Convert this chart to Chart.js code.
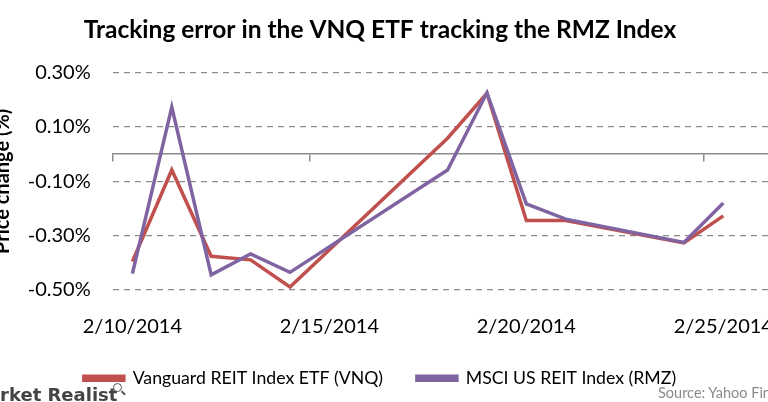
<!DOCTYPE html>
<html><head><meta charset="utf-8">
<script src="https://cdn.jsdelivr.net/npm/chart.js@4/dist/chart.umd.min.js"></script>
<style>
html,body{margin:0;padding:0;background:#fff;overflow:hidden;width:768px;height:402px;position:relative}
#wrap{position:absolute;left:-9px;top:0;width:778px;height:402px;}
#mr{position:absolute;left:-30px;top:386px;font:bold 18px "DejaVu Sans", sans-serif;color:#444;white-space:nowrap;line-height:18px}
#mag{position:absolute;left:113px;top:383px;width:7px;height:7px;border:1.5px solid #555;border-radius:50%}
#mag:after{content:"";position:absolute;left:7px;top:8px;width:5px;height:1.6px;background:#555;transform:rotate(45deg)}
#src{position:absolute;left:658px;top:385px;font:14.5px Lato, sans-serif;color:#8b8b8b;white-space:nowrap;line-height:15px}
</style></head><body>
<div id="wrap"><canvas id="c"></canvas></div>
<div id="mr">Market Realist</div>
<div id="mag"></div>
<div id="src">Source: Yahoo Finance</div>
<script>
const dayOfMonth = [10, 11, 12, 13, 14, 18, 19, 20, 21, 24, 25];
const vnqChange = [-0.395, -0.058, -0.376, -0.389, -0.489, 0.059, 0.224, -0.244, -0.244, -0.327, -0.227];
const rmzChange = [-0.440, 0.173, -0.444, -0.367, -0.435, -0.058, 0.226, -0.183, -0.239, -0.325, -0.180];
const yTickValues = [-0.5, -0.3, -0.1, 0.1, 0.3];
const xTickDays = [10, 15, 20, 25];
const xTickLabels = ['2/10/2014', '2/15/2014', '2/20/2014', '2/25/2014'];

const FONT = 'Lato, "Open Sans", sans-serif';
const GRID = '#8c8c8c';

new Chart(document.getElementById('c'), {
  type: 'line',
  data: {
    datasets: [
      { label: 'Vanguard REIT Index ETF (VNQ)', data: dayOfMonth.map((d, i) => ({ x: d, y: vnqChange[i] })),
        borderColor: '#C0504D', backgroundColor: '#C0504D', borderWidth: 3.5, pointRadius: 0, tension: 0, order: 1 },
      { label: 'MSCI US REIT Index (RMZ)', data: dayOfMonth.map((d, i) => ({ x: d, y: rmzChange[i] })),
        borderColor: '#8064A2', backgroundColor: '#8064A2', borderWidth: 3.5, pointRadius: 0, tension: 0, order: 0 }
    ]
  },
  options: {
    responsive: true, maintainAspectRatio: false, animation: false,
    layout: { padding: { left: 0, right: 0, top: 0, bottom: 4.8 } },
    plugins: {
      title: { display: true, text: 'Tracking error in the VNQ ETF tracking the RMZ Index', color: '#000',
        font: { family: FONT, size: 24.5, weight: 'bold' }, padding: { top: 15.3, bottom: 28 } },
      legend: { position: 'bottom', labels: { boxWidth: 40, boxHeight: 4, padding: 34, color: '#000',
        font: { family: FONT, size: 17.7 }, sort: (a, b) => a.datasetIndex - b.datasetIndex } },
      tooltip: { enabled: false }
    },
    scales: {
      x: { type: 'linear', min: 9.5, max: 26.16,
        afterBuildTicks: s => { s.ticks = xTickDays.map(v => ({ value: v })); },
        ticks: { callback: v => xTickLabels[xTickDays.indexOf(v)], font: { family: FONT, size: 20 }, color: '#000',
          padding: 25, maxRotation: 0, autoSkip: false },
        grid: { display: false, drawTicks: false }, border: { display: false },
        afterFit: s => { s.height = 45.5; s.paddingRight = 0; s.paddingLeft = 0; } },
      x2: { type: 'linear', axis: 'x', position: { y: 0 }, min: 9.5, max: 26.16,
        afterBuildTicks: s => { s.ticks = xTickDays.map(v => ({ value: v - 0.5 })); },
        ticks: { display: false },
        grid: { drawOnChartArea: false, drawTicks: true, tickLength: 7, color: GRID, lineWidth: 1.5 },
        border: { display: true, color: GRID, width: 1.5 } },
      y: { min: -0.5, max: 0.3,
        afterBuildTicks: s => { s.ticks = yTickValues.map(v => ({ value: v })); },
        ticks: { callback: v => v.toFixed(2) + '%', font: { family: FONT, size: 20 }, color: '#000', padding: 22 },
        grid: { color: GRID, lineWidth: 1.3, drawTicks: false },
        border: { display: false, dash: [6, 5] },
        title: { display: true, text: 'Price change (%)', font: { family: FONT, size: 20, weight: 'bold' }, color: '#000',
          padding: { top: 0, bottom: 0 } },
        afterFit: s => { s.width = 121.7; } }
    }
  }
});
</script>
</body></html>
